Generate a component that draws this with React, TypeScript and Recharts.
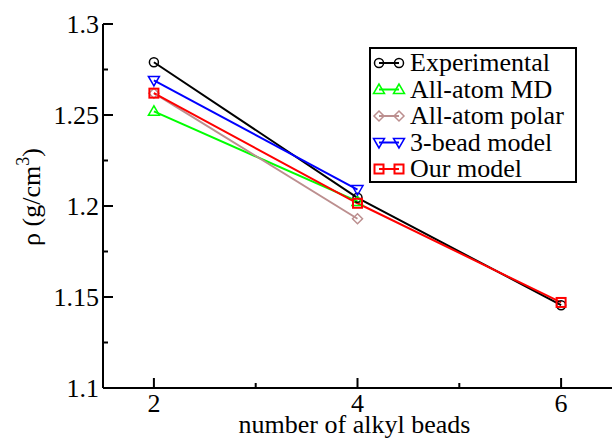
import { LineChart, Line, XAxis, YAxis, Legend } from "recharts";

const beads = [2, 4, 6];
const experimental = [1.279, 1.2045, 1.1455];
const allAtomMD = [1.252, 1.2025, null];
const allAtomPolar = [1.262, 1.193, null];
const threeBead = [1.269, 1.209, null];
const ourModel = [1.262, 1.2015, 1.147];

const xTicks = [2, 3, 4, 5, 6];
const xLabels = [2, 4, 6];
const yTicks = [1.1, 1.125, 1.15, 1.175, 1.2, 1.225, 1.25, 1.275, 1.3];
const yLabels = [1.1, 1.15, 1.2, 1.25, 1.3];

const data = beads.map((b, i) => ({
  beads: b,
  exp: experimental[i],
  md: allAtomMD[i],
  polar: allAtomPolar[i],
  bead3: threeBead[i],
  ours: ourModel[i],
}));

const series = [
  { key: "exp", name: "Experimental", color: "#000000", shape: "circle", width: 2 },
  { key: "md", name: "All-atom MD", color: "#00ff00", shape: "up", width: 2 },
  { key: "polar", name: "All-atom polar", color: "#bc8f8f", shape: "diamond", width: 2 },
  { key: "bead3", name: "3-bead model", color: "#0000ff", shape: "down", width: 2 },
  { key: "ours", name: "Our model", color: "#ff0000", shape: "square", width: 2 },
];

const font = "Liberation Serif, Times New Roman, Times, DejaVu Serif, serif";
const txt = { fontFamily: font, fontSize: 26, fill: "#000" };

function Marker({ cx, cy, shape, color }: any) {
  if (cx == null || cy == null) return <g />;
  const common = { fill: "none", stroke: color, strokeWidth: 1.5 };
  switch (shape) {
    case "circle":
      return <circle cx={cx} cy={cy} r={4.5} {...common} />;
    case "up":
      return <polygon points={`${cx},${cy - 5.5} ${cx - 5.5},${cy + 4} ${cx + 5.5},${cy + 4}`} {...common} />;
    case "down":
      return <polygon points={`${cx},${cy + 5.5} ${cx - 5.5},${cy - 4} ${cx + 5.5},${cy - 4}`} {...common} />;
    case "diamond":
      return <polygon points={`${cx},${cy - 5} ${cx + 5},${cy} ${cx},${cy + 5} ${cx - 5},${cy}`} {...common} />;
    default:
      return <rect x={cx - 4.5} y={cy - 4.5} width={9} height={9} fill="none" stroke={color} strokeWidth={2} />;
  }
}

const XTickBottom = (props: any) => {
  const { x, y, payload } = props;
  const major = xLabels.includes(payload.value);
  return (
    <g>
      <line x1={x} x2={x} y1={y} y2={y - (major ? 10 : 5)} stroke="#000" strokeWidth={2} />
      {major && (
        <text x={x} y={y + 24} textAnchor="middle" {...txt} style={{ fontFamily: font }}>
          {payload.value}
        </text>
      )}
    </g>
  );
};

const XTickTop = (props: any) => {
  const { x, y, payload } = props;
  const major = xLabels.includes(payload.value);
  return <line x1={x} x2={x} y1={y} y2={y + (major ? 10 : 5)} stroke="#000" strokeWidth={2} />;
};

const YTickLeft = (props: any) => {
  const { x, y, payload } = props;
  const major = yLabels.includes(payload.value);
  return (
    <g>
      <line x1={x} x2={x + (major ? 10 : 5)} y1={y} y2={y} stroke="#000" strokeWidth={2} />
      {major && (
        <text x={x - 4} y={y + 9} textAnchor="end" {...txt} style={{ fontFamily: font }}>
          {String(payload.value)}
        </text>
      )}
    </g>
  );
};

const YTickRight = (props: any) => {
  const { x, y, payload } = props;
  const major = yLabels.includes(payload.value);
  return <line x1={x} x2={x - (major ? 10 : 5)} y1={y} y2={y} stroke="#000" strokeWidth={2} />;
};

function LegendBox() {
  return (
    <svg width={208} height={136} style={{ display: "block" }}>
      <rect x={1} y={1} width={206} height={134} fill="#fff" stroke="#000" strokeWidth={2} />
      {series.map((s, i) => {
        const y = 16 + i * 26.5;
        return (
          <g key={s.key}>
            <line x1={10} x2={30} y1={y} y2={y} stroke={s.color} strokeWidth={s.width} />
            <Marker cx={10} cy={y} shape={s.shape} color={s.color} />
            <Marker cx={30} cy={y} shape={s.shape} color={s.color} />
            <text x={41} y={y + 8} {...txt} style={{ fontFamily: font }}>
              {s.name}
            </text>
          </g>
        );
      })}
    </svg>
  );
}

export default function App() {
  return (
    <div style={{ position: "absolute", left: 0, top: 0, background: "#fff", fontFamily: font }}>
      <LineChart width={613} height={439} data={data} margin={{ top: 24, right: 1, left: 0, bottom: 0 }}>
        <XAxis
          dataKey="beads"
          type="number"
          domain={[1.5, 6.5]}
          ticks={xTicks}
          interval={0}
          height={51}
          tickLine={false}
          tickSize={0}
          tickMargin={0}
          axisLine={{ stroke: "#000", strokeWidth: 2 }}
          tick={XTickBottom}
          label={{
            content: (p: any) => {
              const vb = p.viewBox;
              return (
                <text x={vb.x + vb.width / 2 - 3} y={433} textAnchor="middle" {...txt} style={{ fontFamily: font }}>
                  number of alkyl beads
                </text>
              );
            },
          }}
        />
        <XAxis
          xAxisId="top"
          orientation="top"
          dataKey="beads"
          type="number"
          domain={[1.5, 6.5]}
          ticks={xTicks}
          interval={0}
          height={0}
          tickLine={false}
          tickSize={0}
          tickMargin={0}
          axisLine={{ stroke: "#000", strokeWidth: 2 }}
          tick={XTickTop}
        />
        <YAxis
          type="number"
          domain={[1.1, 1.3]}
          ticks={yTicks}
          interval={0}
          width={103}
          tickLine={false}
          tickSize={0}
          tickMargin={0}
          axisLine={{ stroke: "#000", strokeWidth: 2 }}
          tick={YTickLeft}
          label={{
            content: () => (
              <text
                x={40}
                y={197}
                transform="rotate(-90 40 197)"
                textAnchor="middle"
                {...txt}
                style={{ fontFamily: font }}
              >
                ρ (g/cm
                <tspan fontSize={18} dy={-11}>3</tspan>
                <tspan dy={11}>)</tspan>
              </text>
            ),
          }}
        />
        <YAxis
          yAxisId="right"
          orientation="right"
          type="number"
          domain={[1.1, 1.3]}
          ticks={yTicks}
          interval={0}
          width={0}
          tickLine={false}
          tickSize={0}
          tickMargin={0}
          axisLine={{ stroke: "#000", strokeWidth: 2 }}
          tick={YTickRight}
        />
        {series.map((s) => (
          <Line
            key={s.key}
            dataKey={s.key}
            name={s.name}
            type="linear"
            stroke={s.color}
            strokeWidth={s.width}
            isAnimationActive={false}
            activeDot={false}
            dot={(p: any) => (
              <Marker key={`${s.key}-${p.index}`} cx={p.cx} cy={p.value == null ? null : p.cy} shape={s.shape} color={s.color} />
            )}
          />
        ))}
        <Legend
          layout="vertical"
          align="center"
          verticalAlign="middle"
          wrapperStyle={{ position: "absolute", left: 369, top: 47, width: 208, height: 136 }}
          content={() => <LegendBox />}
        />
      </LineChart>
    </div>
  );
}
